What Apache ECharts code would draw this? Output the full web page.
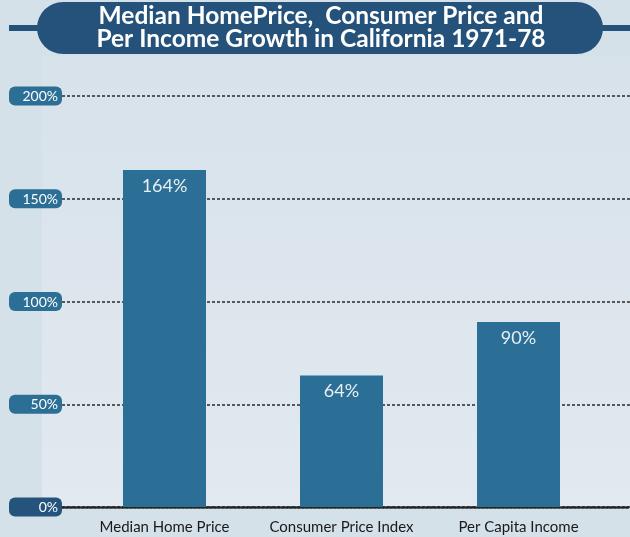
<!DOCTYPE html>
<html>
<head>
<meta charset="utf-8">
<script src="https://cdn.jsdelivr.net/npm/echarts@6/dist/echarts.min.js"></script>
<style>
html,body{margin:0;padding:0;background:#d5e1e9;}
#chart{width:630px;height:537px;}
</style>
</head>
<body>
<div id="chart"></div>
<script>
const categories = ['Median Home Price', 'Consumer Price Index', 'Per Capita Income'];
const growth = [164, 64, 90];
const yTicks = [0, 50, 100, 150, 200];
const titleText = 'Median HomePrice,  Consumer Price and\nPer Income Growth in California 1971-78';

const FONT = 'Lato, "Open Sans", sans-serif';
const chart = echarts.init(document.getElementById('chart'), null, {renderer: 'canvas'});

const option = {
  backgroundColor: '#d5e1e9',
  animation: false,
  graphic: [
    {type: 'rect', z: -10, silent: true, shape: {x: 42, y: 56, width: 588, height: 451},
     style: {fill: new echarts.graphic.LinearGradient(0, 0, 0, 1, [
       {offset: 0, color: '#d7e2ea'}, {offset: 1, color: '#e2e9f0'}])}},
    {type: 'rect', z: 5, silent: true, shape: {x: 9, y: 25, width: 621, height: 6},
     style: {fill: '#25527a'}},
    {type: 'rect', z: 6, silent: true, shape: {x: 37, y: 2, width: 566, height: 52, r: 26},
     style: {fill: '#25527a'}},
    {type: 'text', z: 7, silent: true, x: 321, y: 28,
     style: {text: titleText, align: 'center', verticalAlign: 'middle', fill: '#ffffff',
       font: 'bold 24.5px ' + FONT, lineHeight: 23}}
  ],
  grid: [
    {left: 76, right: 23, top: 96, bottom: 30},
    {left: 62, right: 0, top: 96, bottom: 30}
  ],
  xAxis: [
    {type: 'category', gridIndex: 0, data: categories,
     axisLine: {show: false}, axisTick: {show: false},
     axisLabel: {color: '#1a1a1a', fontSize: 15, fontFamily: FONT, margin: 13,
       interval: 0, hideOverlap: false}},
    {type: 'value', gridIndex: 1, min: 0, max: 1,
     axisLine: {show: true, lineStyle: {type: [2, 2], width: 2.5, color: '#222'}},
     axisTick: {show: false}, axisLabel: {show: false}, splitLine: {show: false}}
  ],
  yAxis: [
    {type: 'value', gridIndex: 0, min: 0, max: 200, interval: 50, show: false},
    {type: 'value', gridIndex: 1, min: 0, max: 200, interval: 50,
     axisLine: {show: false}, axisTick: {show: false},
     splitLine: {lineStyle: {type: [3, 2], color: '#2a2a2a', width: 1.5}},
     axisLabel: {
       margin: 0,
       formatter: v => (yTicks.indexOf(v) === 0 ? '{d|' : '{p|') + v + '%}',
       rich: {
         p: {backgroundColor: '#2c6f96', color: '#ffffff', fontSize: 14, fontFamily: FONT,
             width: 45, align: 'right', padding: [3, 4, 2, 4], borderRadius: 6, lineHeight: 14},
         d: {backgroundColor: '#24537b', color: '#ffffff', fontSize: 14, fontFamily: FONT,
             width: 45, align: 'right', padding: [3, 4, 2, 4], borderRadius: 6, lineHeight: 14}
       }
     }}
  ],
  series: [{
    type: 'bar', xAxisIndex: 0, yAxisIndex: 0, data: growth, barWidth: 83,
    itemStyle: {color: '#2c6f96'},
    label: {show: true, position: 'insideTop', distance: 7, formatter: '{c}%',
      color: '#e8eef3', fontSize: 18, fontFamily: FONT}
  }]
};
chart.setOption(option);
</script>
</body>
</html>
